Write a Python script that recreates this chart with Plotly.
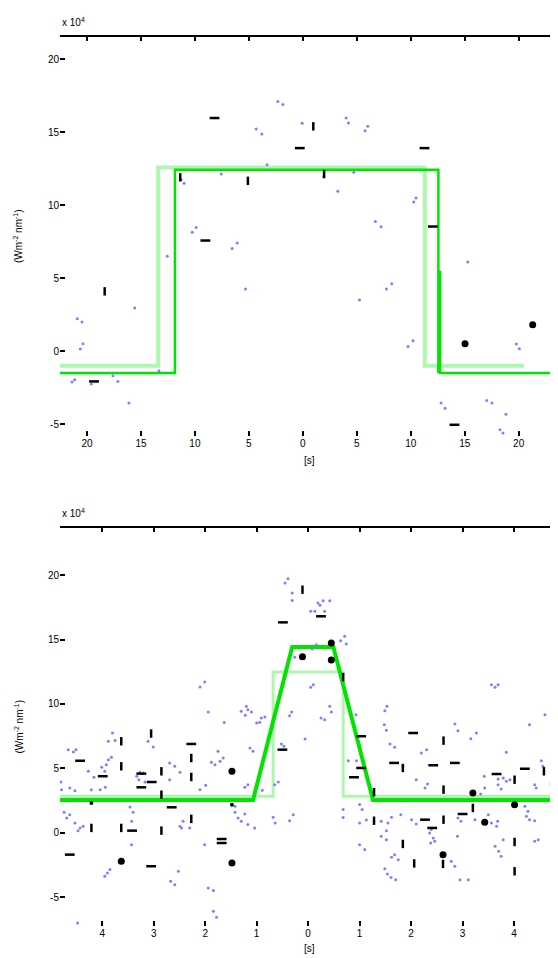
import plotly.graph_objects as go
from plotly.subplots import make_subplots

# ---------------- top panel data ----------------
top_blue_x = [-2.31, -1.85, -4.32, -3.80, -0.06, 4.01, 4.23, 6.02, 5.77, -3.31, -11.27, -7.56, 1.94, 4.72, 3.24,
              10.49, 10.28, -9.88, -10.25, -6.08, -6.55, -12.56, 6.73, 7.25, -5.31, 8.24, 7.75, 5.25, -15.58,
              -20.90, -20.46, -20.37, -20.62, -13.33, -17.59, -17.13, -21.14, -21.39, -19.60, -16.11, 15.28,
              23.55, 23.08, 10.21, 9.75, 19.79, 20.06, 12.81, 13.18, 17.04, 17.53, 18.82, 24.07, 18.27, 18.55, -11.0]
top_blue_y = [17.10, 16.88, 15.21, 14.86, 15.60, 15.96, 15.62, 15.39, 15.09, 12.76, 11.73, 12.12, 11.97, 12.24, 10.94,
              10.48, 10.21, 8.47, 8.13, 7.40, 7.03, 6.49, 8.88, 8.51, 4.25, 4.61, 4.25, 3.49, 2.95,
              2.21, 1.99, 0.50, 0.14, -1.35, -1.69, -2.08, -1.97, -2.12, -2.26, -3.56, 6.10,
              1.99, 1.64, 0.71, 0.32, 0.48, 0.16, -3.56, -3.92, -3.38, -3.56, -4.32, -3.92, -5.39, -5.62, 11.5]
top_h_x = [-8.18, -0.28, 11.27, 12.04, -9.03, -19.35, 14.05]
top_h_y = [15.96, 13.90, 13.90, 8.53, 7.57, -2.08, -5.05]
top_v_x = [0.97, -11.36, -5.09, 1.97, -18.36]
top_v_y = [15.39, 11.90, 11.66, 12.12, 4.09]
top_c_x = [21.30, 15.03]
top_c_y = [1.80, 0.50]
top_model_x = [-22.5, -11.85, -11.85, 12.56, 12.56, 12.72, 12.72, 23.15]
top_model_y = [-1.51, -1.51, 12.42, 12.42, -1.51, 5.5, -1.51, -1.51]
top_ref_x = [-22.5, -13.4, -13.4, 11.3, 11.3, 20.5]
top_ref_y = [-1.0, -1.0, 12.58, 12.58, -1.0, -1.0]
top_xticks = [-20, -15, -10, -5, 0, 5, 10, 15, 20]
top_xticktext = ["20", "15", "10", "5", "0", "5", "10", "15", "20"]
top_yticks = [20, 15, 10, 5, 0, -5]
top_yticktext = ["20", "15", "10", "5", "0", "-5"]

# ---------------- bottom panel data ----------------
bot_blue_x = [-0.45, -0.39, -0.31, -0.31, 0.19, 0.29, 0.42, 0.13, 0.23, 0.05, 0.32, 0.71, 0.74, 0.63, -0.26, 0.10,
              0.05, -2.10, -2.01, 3.56, 3.63, 3.69, 4.76, 4.85, 4.76, 4.85, 0.42, 1.53, -1.94, -1.63, -1.20, -1.17,
              -1.30, -1.10, -1.22, -0.84, -0.94, -0.32, -0.36, 0.45, 0.25, 0.32, 0.93, 1.49, 1.48, 1.52, -0.06,
              1.59, 1.68, -3.11, -3.01, -0.52, -0.47, -1.75, -1.65, -1.88, -1.71, -1.81, -1.13, -1.07, -2.69,
              -2.59, 0.78, 0.94, 1.84, -3.80, -3.88, -3.75, -4.66, -4.56, -4.51, -3.88, -3.82, -3.92, -4.27,
              -4.01, -3.95, -2.49, -3.27, -3.20, -3.33, -3.29, -3.17, -2.69, -2.10, -1.99, -4.16, -4.80, -4.79,
              -4.63, -4.53, -4.21, -4.04, -3.94, -1.17, -1.23, -0.58, -0.65, -0.89, -4.74, -4.63, -4.69, -3.46,
              -3.40, -3.43, -1.42, -1.42, -1.36, -1.23, -1.17, -1.04, -1.30, -0.68, -0.64, -2.43, -2.49, -2.46,
              -2.30, -4.53, -4.43, -4.37, -4.47, -3.43, -2.01, -3.85, -3.95, -3.90, -2.52, -2.67, -2.59, -1.94,
              -1.84, -1.84, -1.78, -4.48, 0.68, 0.68, 1.00, 1.05, 1.00, 1.13, 1.62, 1.55, 1.80, 2.01, 2.10, 1.42,
              1.52, 1.42, 1.52, 1.00, 1.10, 1.68, 1.62, 1.75, 1.49, 1.54, 1.61, 1.70, 2.85, 2.91, 3.27, 3.16,
              4.30, 4.60, 3.85, 2.20, 2.30, 2.10, 2.32, 2.27, 3.42, 3.69, 3.79, 3.85, 3.92, 4.53, 4.56, 4.82,
              4.40, 4.43, 3.69, 3.75, 3.43, 3.35, 4.21, 4.27, 4.24, 4.30, 4.40, 4.95, -0.29, -0.36, 2.91, 2.97,
              3.24, 3.50, 3.56, 3.68, 3.66, 2.39, 2.36, 2.43, 2.38, 2.46, 2.90, 3.63, 3.70, 3.75, 3.79, 4.40,
              4.47, 4.89, 4.95, 4.95, 2.78, 2.85, 2.95, 3.11, 4.84, 4.79, 0.08, 0.16, -1.00, -0.91]
bot_blue_y = [19.38, 19.71, 18.60, 18.02, 17.83, 18.01, 18.01, 17.19, 17.65, 17.19, 17.19, 15.25, 14.65, 14.91, 13.62,
              11.50, 11.29, 11.32, 11.71, 11.50, 11.29, 11.50, 10.85, 10.85, 10.41, 10.41, 9.82, 9.82, 9.38, 8.57,
              9.82, 9.56, 9.43, 9.38, 9.12, 8.99, 8.58, 9.38, 9.09, 9.38, 8.91, 8.78, 9.17, 9.48, 8.40, 7.96, 7.29,
              6.90, 6.64, 7.11, 6.67, 6.90, 6.72, 6.33, 5.81, 5.48, 5.56, 5.29, 6.59, 6.33, 5.43,
              5.17, 5.60, 5.60, 5.17, 7.75, 7.11, 7.16, 6.46, 6.28, 6.46, 5.68, 5.87, 5.29, 4.78,
              5.09, 4.78, 4.71, 4.71, 4.65, 4.40, 4.13, 3.95, 4.13, 3.36, 3.70, 4.32, 3.95, 3.36,
              3.49, 3.28, 3.36, 3.36, 3.54, 3.74, 3.54, 3.95, 3.74, 3.31, 1.60, 1.42, 1.16, 2.02,
              1.60, 0.91, 2.07, 1.60, 1.16, 1.47, 0.66, 0.39, 0.91, 1.22, 0.78, 0.91, 0.52, 0.39,
              0.39, 0.78, 0.39, 0.52, 0.18, -0.91, -0.91, -2.84, -3.36, -3.10, -2.97, -3.74, -4.01, -4.26,
              -4.47, -6.07, -6.53, -6.98, 1.81, 1.20, 2.21, 1.81, 0.78, 1.01, 1.22, 0.78, 1.42, 1.03, 0.70, 0.91,
              0.18, -0.26, -0.52, -0.91, -1.29, -1.68, -1.88, -2.07, -2.77, -3.18, -3.45, -3.62, 8.45, 7.93, 7.75, 7.31,
              8.40, 9.17, 6.26, 6.20, 6.46, 4.13, 3.80, 3.49, 4.40, 4.19, 4.26, 4.01, 4.13, 5.60, 5.17, 3.95,
              3.74, 3.49, 3.74, 3.41, 3.49, 3.02, 2.07, 1.68, 1.29, 1.03, 0.95, 1.42, 1.42, 0.95, 1.16, 0.91,
              1.03, 1.42, 0.78, 0.91, 0.52, 0.26, 0.00, -0.39, -0.78, -0.64, -0.26, -1.03, -1.42, -1.81, -0.52, -0.64,
              -0.52, -0.13, -0.52, -0.91, -2.19, -2.58, -3.62, -3.62, -5.56, -5.95, 14.26, 14.60, 8.53, 8.91]
bot_h_x = [-0.49, 0.25, 2.04, 1.03, -2.27, -0.50, 1.67, -4.43, -3.99, -3.24, -3.04, -3.24, -2.65, -3.42, -1.68,
           -1.68, -4.63, -3.05, 2.43, 2.85, 1.03, 0.89, 3.66, 4.21, 4.79, 2.27, 3.00, 2.41]
bot_h_y = [16.33, 16.80, 7.75, 7.50, 6.90, 6.46, 5.43, 5.60, 4.40, 4.60, 3.95, 3.54, 1.99, 0.18, -0.47,
           -0.78, -1.68, -2.58, 5.25, 5.43, 5.04, 4.32, 4.57, 4.98, 3.80, 1.03, 1.47, 0.39]
bot_v_x = [-0.11, 0.68, -3.05, -3.63, -3.63, -2.27, -2.85, -2.27, -2.85, -2.27, -4.21, -3.63, -2.85, 2.63, 1.84,
           4.58, 4.01, 2.63, 1.28, 3.20, 1.28, 2.63, 1.84, 4.01, 2.06, 4.01, 2.62]
bot_v_y = [18.86, 12.09, 7.71, 7.11, 5.17, 5.81, 4.78, 4.34, 2.97, 1.09, 0.39, 0.39, 0.18, 7.16, 5.04,
           4.78, 4.13, 3.36, 3.16, 1.94, 0.95, 1.03, -0.85, -0.70, -2.36, -2.97, -2.40]
bot_c_x = [0.45, -0.11, 0.45, -1.48, -3.63, -1.48, 3.20, 4.01, 3.43, 2.62]
bot_c_y = [14.73, 13.66, 13.41, 4.78, -2.19, -2.33, 3.10, 2.19, 0.83, -1.68]
bot_s_x = [4.79, -4.21, -1.48]
bot_s_y = [2.19, 2.33, 2.19]
bot_model_x = [-4.82, -1.07, -0.31, 0.49, 1.26, 4.97]
bot_model_y = [2.56, 2.56, 14.42, 14.42, 2.56, 2.56]
bot_ref_x = [-4.82, -0.68, -0.68, 0.68, 0.68, 4.97]
bot_ref_y = [2.85, 2.85, 12.48, 12.48, 2.85, 2.85]
bot_xticks = [-4, -3, -2, -1, 0, 1, 2, 3, 4]
bot_xticktext = ["4", "3", "2", "1", "0", "1", "2", "3", "4"]
bot_yticks = [20, 15, 10, 5, 0, -5]
bot_yticktext = ["20", "15", "10", "5", "0", "-5"]

y_title = "(Wm<sup>-2</sup> nm<sup>-1</sup>)"
x_title = "[s]"
exp_label = "x 10<sup>4</sup>"

BLUE = "#7f7fff"
LIGHT = "#aef7ae"
GREEN = "#00e400"
FONT = "Liberation Sans"

fig = make_subplots(rows=2, cols=1)


def add_panel(row, bx, by, hx, hy, vx, vy, cx, cy, rx, ry, mx, my, mw, rw):
    fig.add_trace(go.Scatter(x=rx, y=ry, mode="lines", line=dict(color=LIGHT, width=rw),
                             hoverinfo="skip", showlegend=False), row=row, col=1)
    fig.add_trace(go.Scatter(x=mx, y=my, mode="lines", line=dict(color=GREEN, width=mw),
                             hoverinfo="skip", showlegend=False), row=row, col=1)
    fig.add_trace(go.Scatter(x=bx, y=by, mode="markers",
                             marker=dict(color=BLUE, size=3, line=dict(width=0)),
                             showlegend=False), row=row, col=1)
    fig.add_trace(go.Scatter(x=hx, y=hy, mode="markers",
                             marker=dict(symbol="line-ew", size=7, line=dict(color="black", width=2.5)),
                             showlegend=False), row=row, col=1)
    fig.add_trace(go.Scatter(x=vx, y=vy, mode="markers",
                             marker=dict(symbol="line-ns", size=6, line=dict(color="black", width=2.5)),
                             showlegend=False), row=row, col=1)
    fig.add_trace(go.Scatter(x=cx, y=cy, mode="markers",
                             marker=dict(symbol="circle", size=7, color="black", line=dict(width=0)),
                             showlegend=False), row=row, col=1)


add_panel(1, top_blue_x, top_blue_y, top_h_x, top_h_y, top_v_x, top_v_y, top_c_x, top_c_y,
          top_ref_x, top_ref_y, top_model_x, top_model_y, 2.5, 4)
add_panel(2, bot_blue_x, bot_blue_y, bot_h_x, bot_h_y, bot_v_x, bot_v_y, bot_c_x, bot_c_y,
          bot_ref_x, bot_ref_y, bot_model_x, bot_model_y, 4, 3)
fig.add_trace(go.Scatter(x=bot_s_x, y=bot_s_y, mode="markers",
                         marker=dict(symbol="circle", size=4, color="black", line=dict(width=0)),
                         showlegend=False), row=2, col=1)

axis_common = dict(showgrid=False, zeroline=False, showline=False, ticks="inside", ticklen=5,
                   tickwidth=2, tickcolor="black", mirror="ticks",
                   tickfont=dict(family=FONT, size=10, color="black"))

fig.update_xaxes(**axis_common)
fig.update_yaxes(**axis_common)

fig.update_xaxes(range=[-22.5, 24.2], tickvals=top_xticks, ticktext=top_xticktext,
                 domain=[0.0932, 0.9964], row=1, col=1)
fig.update_yaxes(range=[-5.82, 21.58], tickvals=top_yticks, ticktext=top_yticktext,
                 domain=[0.5532, 0.9708], row=1, col=1)
fig.update_xaxes(range=[-4.82, 4.97], tickvals=bot_xticks, ticktext=bot_xticktext,
                 domain=[0.0932, 0.9964], row=2, col=1)
fig.update_yaxes(range=[-7.21, 23.72], tickvals=bot_yticks, ticktext=bot_yticktext,
                 domain=[0.0418, 0.4582], row=2, col=1)

for xr, yr in (("x", "y"), ("x2", "y2")):
    fig.add_shape(type="line", xref=xr + " domain", yref=yr + " domain", x0=0, x1=1, y0=1, y1=1,
                  line=dict(color="black", width=2))

annots = []
for ytop, xtitle_y, ymid in ((0.9708, 0.528, 0.762), (0.4582, 0.018, 0.25)):
    annots.append(dict(text=exp_label, x=0.0932, y=ytop + 0.006, xref="paper", yref="paper",
                       xanchor="left", yanchor="bottom", showarrow=False,
                       font=dict(family=FONT, size=10, color="black")))
    annots.append(dict(text=x_title, x=0.54, y=xtitle_y, xref="paper", yref="paper",
                       xanchor="center", yanchor="middle", showarrow=False,
                       font=dict(family=FONT, size=10, color="black")))
    annots.append(dict(text=y_title, x=0.018, y=ymid, xref="paper", yref="paper",
                       xanchor="center", yanchor="middle", textangle=-90, showarrow=False,
                       font=dict(family=FONT, size=10, color="black")))

fig.update_layout(width=558, height=958, margin=dict(l=0, r=0, t=0, b=0),
                  paper_bgcolor="white", plot_bgcolor="white", annotations=annots,
                  font=dict(family=FONT, size=10, color="black"), showlegend=False)

fig.write_html("out.html")
